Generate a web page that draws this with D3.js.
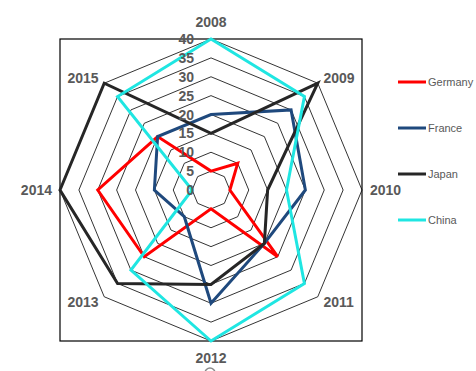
<!DOCTYPE html>
<html>
<head>
<meta charset="utf-8">
<script src="https://cdn.jsdelivr.net/npm/d3@7"></script>
<style>
  body { margin: 0; background: #fff; }
  svg { display: block; }
</style>
</head>
<body>
<div id="chart"></div>
<script>
// radar chart data, one value per year
const years = ["2008", "2009", "2010", "2011", "2012", "2013", "2014", "2015"];
const germany = [5, 10, 5, 25, 5, 25, 30, 20];
const france = [20, 30, 25, 20, 30, 10, 15, 20];
const japan = [15, 40, 15, 20, 25, 35, 40, 40];
const china = [40, 35, 20, 35, 40, 30, 5, 35];
const seriesNames = ["Germany", "France", "Japan", "China"];
const seriesColors = ["#ff0000", "#1f497d", "#262626", "#1fe6e2"];
const tickValues = [0, 5, 10, 15, 20, 25, 30, 35, 40];

const width = 476, height = 371;
const cx = 211, cy = 190, R = 151;
const textGray = "#595959";

const svg = d3.select("#chart")
  .append("svg")
  .attr("width", width)
  .attr("height", height);

// scales
const rScale = d3.scaleLinear().domain([0, 40]).range([0, R]);
const angle = d3.scalePoint().domain(years).range([0, 2 * Math.PI * 7 / 8]);

function pt(year, v) {
  let a = angle(year);
  return [cx + rScale(v) * Math.sin(a), cy - rScale(v) * Math.cos(a)];
}

// plot area border
svg.append("rect")
  .attr("x", cx - R)
  .attr("y", cy - R)
  .attr("width", 2 * R)
  .attr("height", 2 * R)
  .attr("fill", "none")
  .attr("stroke", "#000")
  .attr("stroke-width", 1.2);

// grid octagons
svg.append("g")
  .attr("class", "grid")
  .selectAll("path")
  .data(tickValues.filter(d => d > 0))
  .enter()
  .append("path")
  .attr("d", v => "M" + years.map(y => pt(y, v).join(",")).join("L") + "Z")
  .attr("fill", "none")
  .attr("stroke", "#000")
  .attr("stroke-width", 0.8);

// series lines
const series = [germany, france, japan, china];
const line = d3.lineRadial()
  .angle((d, i) => angle(years[i]))
  .radius(d => rScale(d))
  .curve(d3.curveLinearClosed);

svg.append("g")
  .attr("transform", `translate(${cx},${cy})`)
  .selectAll("path")
  .data(series)
  .enter()
  .append("path")
  .attr("d", d => line(d))
  .attr("fill", "none")
  .attr("stroke", (d, i) => seriesColors[i])
  .attr("stroke-width", 3)
  .attr("stroke-linejoin", "miter");

// value tick labels
svg.append("g")
  .selectAll("text")
  .data(tickValues)
  .enter()
  .append("text")
  .attr("x", cx - 17)
  .attr("y", d => cy - rScale(d))
  .attr("dy", "0.36em")
  .attr("text-anchor", "end")
  .attr("font-family", "Liberation Sans, Arial, sans-serif")
  .attr("font-weight", "bold")
  .attr("font-size", 14)
  .attr("fill", textGray)
  .text(d => d);

// category labels
svg.append("g")
  .selectAll("text")
  .data(years)
  .enter()
  .append("text")
  .attr("x", y => {
    let a = angle(y), s = Math.sin(a);
    return cx + (R + 8) * s;
  })
  .attr("y", y => {
    let a = angle(y), c = Math.cos(a);
    let base = cy - (R + 17) * c;
    if (Math.abs(Math.sin(a)) > 0.5 && Math.abs(c) > 0.5) base = cy - (R - 1) * 0.707 * Math.sign(c) - 6 * Math.sign(c);
    return base;
  })
  .attr("dy", "0.36em")
  .attr("text-anchor", y => {
    let s = Math.sin(angle(y));
    return Math.abs(s) < 0.01 ? "middle" : (s > 0 ? "start" : "end");
  })
  .attr("font-family", "Liberation Sans, Arial, sans-serif")
  .attr("font-weight", "bold")
  .attr("font-size", 14)
  .attr("fill", textGray)
  .text(d => d);

// legend
const legend = svg.append("g")
  .selectAll("g")
  .data(seriesNames)
  .enter()
  .append("g")
  .attr("transform", (d, i) => `translate(398,${82 + i * 46})`);

legend.append("line")
  .attr("x1", 0)
  .attr("x2", 28)
  .attr("stroke", (d, i) => seriesColors[i])
  .attr("stroke-width", 3);

legend.append("text")
  .attr("x", 30)
  .attr("dy", "0.36em")
  .attr("font-family", "Liberation Sans, Arial, sans-serif")
  .attr("font-size", 11)
  .attr("fill", textGray)
  .text(d => d);

// little cut-off handle at the bottom
svg.append("circle")
  .attr("cx", cx - 1)
  .attr("cy", 373)
  .attr("r", 5)
  .attr("fill", "none")
  .attr("stroke", "#8a8a8a")
  .attr("stroke-width", 1.5);
</script>
</body>
</html>
